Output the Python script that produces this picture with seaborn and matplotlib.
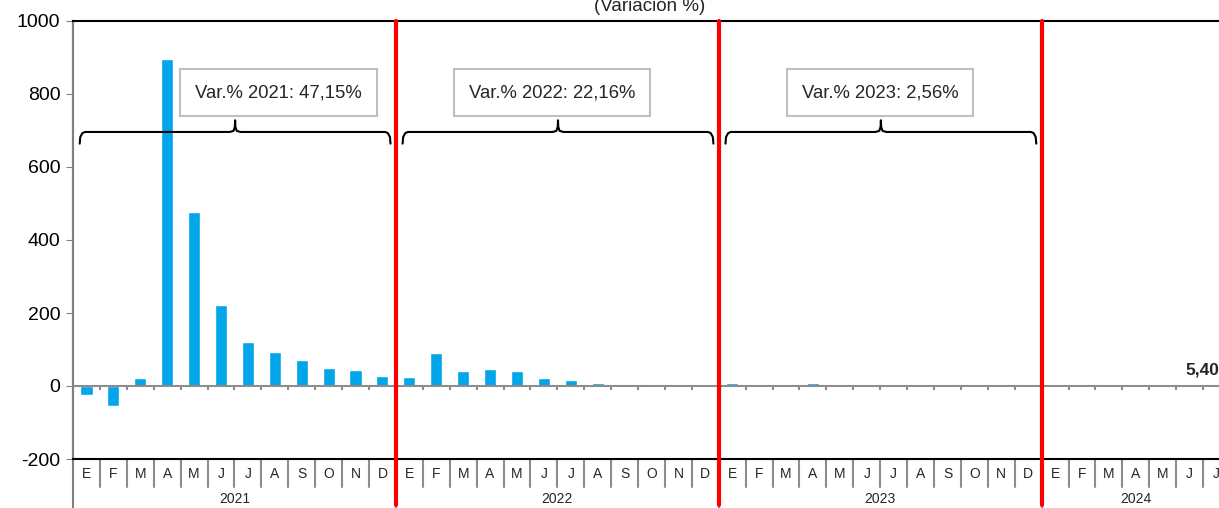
import numpy as np
import pandas as pd
import seaborn as sns
import matplotlib.pyplot as plt
from matplotlib.transforms import blended_transform_factory

# datos (variacion % mensual)
meses = ['E', 'F', 'M', 'A', 'M', 'J', 'J', 'A', 'S', 'O', 'N', 'D']
anios = ['2021', '2022', '2023', '2024']
meses_por_anio = [12, 12, 12, 7]

var_2021 = [-25, -55, 22, 895, 477, 222, 120, 93, 72, 50, 43, 27]
var_2022 = [25, 90, 40, 47, 40, 22, 17, 8, 5, 6, 4, 2]
var_2023 = [8, 2, 1, 7, 1.5, 1, 0.5, 0.3, 0.2, -0.5, 0.3, 1.5]
var_2024 = [0.5, 1, 3, -2, 1, 2, 5.40]

textos_var = ['Var.% 2021: 47,15%', 'Var.% 2022: 22,16%', 'Var.% 2023: 2,56%']
etiqueta_final = '5,40'

valores = var_2021 + var_2022 + var_2023 + var_2024
etiquetas_mes = [m for n in meses_por_anio for m in meses[:n]]
df = pd.DataFrame({'pos': np.arange(len(valores)), 'valor': valores})

sns.set_style('white')
plt.rcParams['font.family'] = ['Liberation Sans', 'DejaVu Sans']

fig = plt.figure(figsize=(12.19, 5.08), dpi=100)
# el grafico original esta recortado por la derecha
ax = fig.add_axes([73 / 1219, 49 / 508, 1157 / 1219, 438 / 508])

sns.barplot(data=df, x='pos', y='valor', color='#00A6E9', saturation=1,
            width=0.45, ax=ax, zorder=2)

n = len(valores)
ax.set_xlim(-0.5, n - 0.5)
ax.set_ylim(-200, 1000)
ax.set_yticks(range(-200, 1001, 200))
ax.set_yticklabels([str(v) for v in range(-200, 1001, 200)], fontsize=14)
ax.set_xticks([])
ax.set_xlabel('')
ax.set_ylabel('')
ax.tick_params(axis='y', length=5, color='#808080', direction='out', left=True,
               labelcolor='black', pad=4)

ax.spines['right'].set_visible(False)
ax.spines['left'].set_color('#808080')
ax.spines['left'].set_linewidth(1.5)
ax.spines['top'].set_color('black')
ax.spines['top'].set_linewidth(1.5)
ax.spines['bottom'].set_color('black')
ax.spines['bottom'].set_linewidth(1.5)

# eje en cero con marcas
ax.axhline(0, color='#8C8C8C', lw=1.5, zorder=3)
bordes = np.arange(n) + 0.5
ax.vlines(bordes, -12, 0, color='#8C8C8C', lw=1.5, zorder=3)

trans = blended_transform_factory(ax.transData, ax.transAxes)

# linea izquierda prolongada
ax.plot([0, 0], [1, -0.13], transform=ax.transAxes, color='#808080', lw=1.5, clip_on=False)

# etiquetas de meses y separadores
inicios = np.cumsum([0] + meses_por_anio[:-1])
for i, m in enumerate(etiquetas_mes):
    ax.text(i, -0.034, m, transform=trans, ha='center', va='center', fontsize=10)
for b in bordes:
    largo = -0.13 if int(b + 0.5) in inicios else -0.064
    ax.plot([b, b], [0, largo], transform=trans, color='#8C8C8C', lw=1.5, clip_on=False)
for ini, cant, anio in zip(inicios, meses_por_anio, anios):
    ax.text(ini + (cant - 1) / 2, -0.108, anio, transform=trans, ha='center', va='bottom', fontsize=10)

# lineas rojas de cambio de anio
for ini in inicios[1:]:
    ax.plot([ini - 0.5, ini - 0.5], [1, -0.105], transform=trans, color='red', lw=3, clip_on=False, zorder=5)

# llaves y cuadros de variacion anual
def llave(x0, x1, xm, y):
    xs = [x0, x0 + 0.02, x0 + 0.1, x0 + 0.2, xm - 0.2, xm - 0.06, xm - 0.01, xm,
          xm + 0.01, xm + 0.06, xm + 0.2, x1 - 0.2, x1 - 0.1, x1 - 0.02, x1]
    ys = [y - 32, y - 14, y - 3, y, y, y + 3, y + 14, y + 32,
          y + 14, y + 3, y, y, y - 3, y - 14, y - 32]
    ax.plot(xs, ys, color='black', lw=1.5, zorder=4)

x_cuadros = [7.14, 17.3, 29.5]
for k, texto in enumerate(textos_var):
    ini = inicios[k]
    x0, x1 = ini - 0.25, ini + 11.3
    llave(x0, x1, (x0 + x1) / 2, 696)
    ax.text(x_cuadros[k], 804, texto, ha='center', va='center', fontsize=13.3, zorder=6,
            bbox=dict(boxstyle='square,pad=0.8', fc='white', ec='#BFBFBF', lw=1.5))

ax.text(n - 1 + 0.1, 5.40 + 18, etiqueta_final, ha='right', va='bottom',
        fontsize=12.5, fontweight='bold')

fig.text(650 / 1219, 1 - 15 / 508, '(Variación %)', ha='center', va='bottom', fontsize=13.5)

fig.savefig('out.png', dpi=100)
